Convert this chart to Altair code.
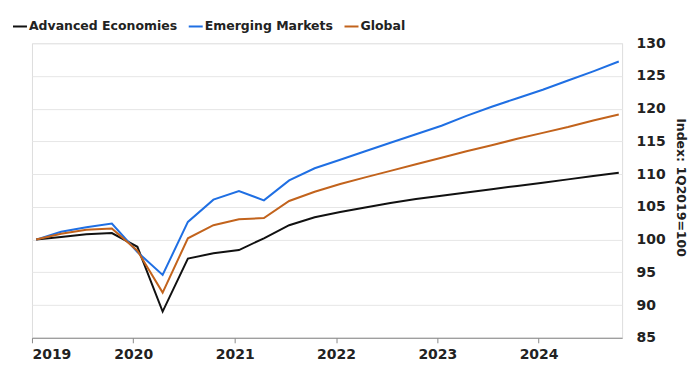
import altair as alt
import pandas as pd

quarters = [f"{y}Q{q}" for y in range(2019, 2025) for q in range(1, 5)]

advanced = [100.0, 100.4, 100.8, 101.0, 98.9, 89.0, 97.1, 97.9, 98.4, 100.2,
            102.2, 103.4, 104.2, 104.9, 105.6, 106.2, 106.7, 107.2, 107.7, 108.2,
            108.7, 109.2, 109.7, 110.2]
emerging = [100.0, 101.2, 101.9, 102.45, 98.1, 94.6, 102.7, 106.1, 107.4, 106.0,
            109.05, 110.9, 112.2, 113.5, 114.8, 116.1, 117.4, 118.9, 120.3, 121.6,
            122.9, 124.3, 125.7, 127.2]
global_ = [100.0, 100.9, 101.5, 101.7, 98.3, 91.9, 100.2, 102.2, 103.1, 103.3,
           105.9, 107.3, 108.5, 109.5, 110.5, 111.5, 112.5, 113.5, 114.4, 115.4,
           116.3, 117.2, 118.2, 119.1]

series_names = ["Advanced Economies", "Emerging Markets", "Global"]
series_colors = ["#111111", "#1f6fe3", "#c2631c"]
y_ticks = [85, 90, 95, 100, 105, 110, 115, 120, 125, 130]


def quarter_date(q):
    year, qn = q.split("Q")
    month = (int(qn) - 1) * 3 + 1
    return f"{year}-{month:02d}-16"


rows = []
for name, vals in zip(series_names, [advanced, emerging, global_]):
    for q, v in zip(quarters, vals):
        rows.append({"date": quarter_date(q), "series": name, "value": v})
df = pd.DataFrame(rows)

FONT = "DejaVu Sans"
TXT = "#222222"

base = alt.Chart(df).encode(
    x=alt.X(
        "date:T",
        scale=alt.Scale(domain=["2019-01-01", "2024-10-28"]),
        axis=alt.Axis(
            title=None,
            format="%Y",
            tickCount={"interval": "year", "step": 1},
            grid=False,
            domainColor="#8a8a8a",
            tickColor="#8a8a8a",
            tickSize=5,
            labelPadding=5,
            labelFont=FONT,
            labelFontSize=14,
            labelFontWeight="bold",
            labelColor=TXT,
        ),
    ),
    y=alt.Y(
        "value:Q",
        scale=alt.Scale(domain=[85, 130], nice=False, zero=False),
        axis=alt.Axis(
            orient="right",
            values=y_ticks,
            offset=14,
            title="Index: 1Q2019=100",
            titleAngle=90,
            titleX=44,
            titleY=144,
            titleAlign="center",
            titleBaseline="middle",
            titleFont=FONT,
            titleFontSize=12.5,
            titleFontWeight="bold",
            titleColor=TXT,
            domain=False,
            ticks=False,
            labelPadding=0,
            labelFont=FONT,
            labelFontSize=14,
            labelFontWeight="bold",
            labelColor=TXT,
            gridColor="#e6e6e6",
            gridWidth=1,
        ),
    ),
    color=alt.Color(
        "series:N",
        scale=alt.Scale(domain=series_names, range=series_colors),
        legend=alt.Legend(
            title=None,
            orient="none",
            direction="horizontal",
            legendX=-20,
            legendY=-25,
            symbolType="stroke",
            symbolSize=196,
            symbolStrokeWidth=2,
            labelOffset=1,
            columnPadding=7,
            labelFont=FONT,
            labelFontSize=12.5,
            labelFontWeight="bold",
            labelColor=TXT,
        ),
    ),
)

chart = base.mark_line(strokeWidth=2).properties(
    width=591,
    height=295,
    autosize=alt.AutoSizeParams(type="none"),
    padding={"left": 24, "top": 35, "right": 66, "bottom": 33},
).configure_view(stroke=None).configure(background="white")

chart.save("out.html", embed_options={"renderer": "svg", "actions": False})
